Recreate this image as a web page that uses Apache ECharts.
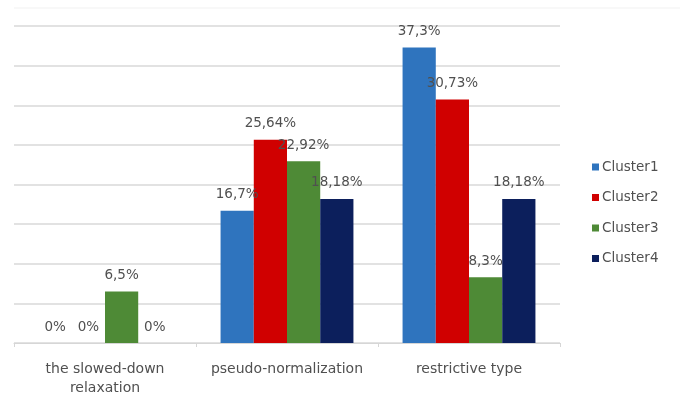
<!DOCTYPE html>
<html>
<head>
<meta charset="utf-8">
<script src="https://cdn.jsdelivr.net/npm/echarts@6/dist/echarts.min.js"></script>
<style>
  html, body { margin: 0; padding: 0; background: #fff; }
  #chart { width: 686px; height: 393px; }
</style>
</head>
<body>
<div id="chart"></div>
<script>
// Diastolic dysfunction types by cluster (%)
const categories = ['the slowed-down\nrelaxation', 'pseudo-normalization', 'restrictive type'];
const seriesNames = ['Cluster1', 'Cluster2', 'Cluster3', 'Cluster4'];
const cluster1 = [0, 16.7, 37.3];
const cluster2 = [0, 25.64, 30.73];
const cluster3 = [6.5, 22.92, 8.3];
const cluster4 = [0, 18.18, 18.18];
const colors = ['#2F74BE', '#D00000', '#4E8A36', '#0C1F5C'];

const values = [cluster1, cluster2, cluster3, cluster4];
const fmt = v => String(v).replace('.', ',') + '%';
const font = '"DejaVu Sans", "Open Sans", sans-serif';
const textColor = '#505050';

const chart = echarts.init(document.getElementById('chart'));
chart.setOption({
  animation: false,
  backgroundColor: '#ffffff',
  color: colors,
  grid: { left: 14, right: 126, top: 26, bottom: 50, containLabel: false, outerBoundsMode: 'none' },
  legend: {
    orient: 'vertical',
    left: 587,
    top: 155,
    itemWidth: 7,
    itemHeight: 7,
    itemGap: 16.5,
    icon: 'rect',
    textStyle: { color: textColor, fontSize: 13.5, fontFamily: font, padding: [0, 0, 0, -2] },
    data: seriesNames
  },
  xAxis: {
    type: 'category',
    data: categories,
    axisLine: { lineStyle: { color: '#d6d6d6', width: 1 } },
    axisTick: { show: true, length: 4, lineStyle: { color: '#d6d6d6' } },
    axisLabel: {
      interval: 0,
      hideOverlap: false,
      color: textColor,
      fontSize: 14,
      fontFamily: font,
      margin: 17,
      lineHeight: 19
    }
  },
  yAxis: {
    type: 'value',
    min: 0,
    max: 40,
    interval: 5,
    axisLabel: { show: false },
    axisLine: { show: false },
    axisTick: { show: false },
    splitLine: { lineStyle: { color: '#d9d9d9', width: 1.5 } }
  },
  graphic: [{
    type: 'line',
    shape: { x1: 14, y1: 8, x2: 680, y2: 8 },
    style: { stroke: '#f1f1f1', lineWidth: 1 },
    silent: true
  }],
  series: seriesNames.map((name, i) => ({
    name,
    type: 'bar',
    data: values[i],
    barGap: '0%',
    barCategoryGap: '27%',
    itemStyle: { color: colors[i] },
    label: {
      show: true,
      position: 'top',
      distance: 9,
      color: textColor,
      fontSize: 13.5,
      fontFamily: font,
      formatter: p => fmt(p.value)
    }
  }))
});
</script>
</body>
</html>
